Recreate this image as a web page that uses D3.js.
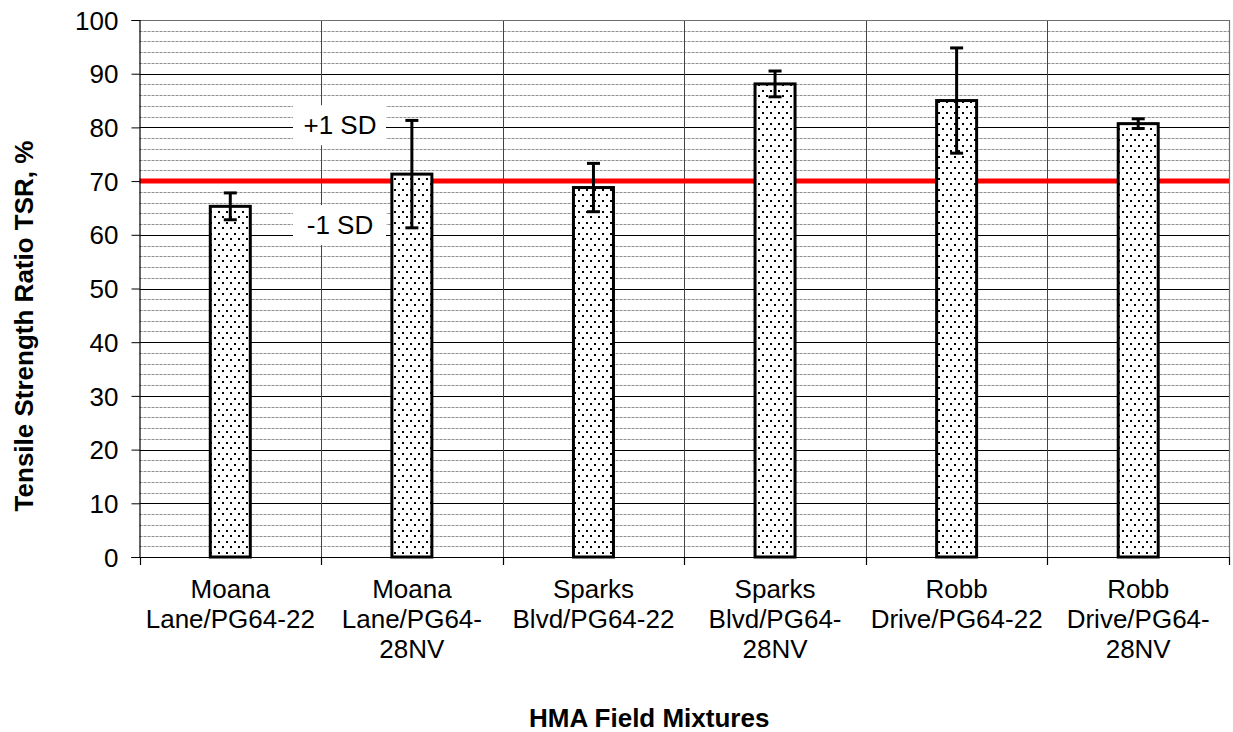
<!DOCTYPE html>
<html>
<head>
<meta charset="utf-8">
<script src="https://cdn.jsdelivr.net/npm/d3@7"></script>
<style>
  html, body { margin: 0; padding: 0; background: #fff; }
  svg { display: block; font-family: "Liberation Sans", Arial, sans-serif; }
</style>
</head>
<body>
<svg id="chart" width="1233" height="732"></svg>
<script>
const categories = ["Moana Lane/PG64-22", "Moana Lane/PG64-28NV", "Sparks Blvd/PG64-22",
                    "Sparks Blvd/PG64-28NV", "Robb Drive/PG64-22", "Robb Drive/PG64-28NV"];
const categoryLines = [
  ["Moana", "Lane/PG64-22"],
  ["Moana", "Lane/PG64-", "28NV"],
  ["Sparks", "Blvd/PG64-22"],
  ["Sparks", "Blvd/PG64-", "28NV"],
  ["Robb", "Drive/PG64-22"],
  ["Robb", "Drive/PG64-", "28NV"]
];
const tsrValues = [65.3, 71.3, 68.8, 88.1, 85.0, 80.7];
const sdValues = [2.5, 10.0, 4.5, 2.4, 9.8, 0.9];
const thresholdValue = 70;
const yTicks = [0, 10, 20, 30, 40, 50, 60, 70, 80, 90, 100];
const minorTicks = d3.range(2, 100, 2).filter(v => v % 10 !== 0);
const sdLabels = [{text: "+1 SD", value: 80.4}, {text: "-1 SD", value: 61.8}];
const yTitle = "Tensile Strength Ratio TSR, %";
const xTitle = "HMA Field Mixtures";

const svg = d3.select("#chart");
const pLeft = 139.5, pRight = 1229, pTop = 20, pBottom = 557;

const x = d3.scaleBand().domain(categories).range([pLeft, pRight]).paddingInner(0).paddingOuter(0);
const y = d3.scaleLinear().domain([0, 100]).range([pBottom, pTop]);

// pattern
const defs = svg.append("defs");
const pat = defs.append("pattern").attr("id", "dots").attr("patternUnits", "userSpaceOnUse")
  .attr("width", 8).attr("height", 11);
pat.append("rect").attr("width", 8).attr("height", 11).attr("fill", "#fff");
pat.append("rect").attr("x", 2).attr("y", 2).attr("width", 2).attr("height", 2).attr("fill", "#000");
pat.append("rect").attr("x", 6).attr("y", 7).attr("width", 2).attr("height", 2).attr("fill", "#000");

// minor gridlines
svg.append("g").selectAll("line").data(minorTicks).join("line")
  .attr("x1", pLeft).attr("x2", pRight)
  .attr("y1", d => Math.round(y(d)) + 0.5).attr("y2", d => Math.round(y(d)) + 0.5)
  .attr("stroke", "#8f8f8f").attr("stroke-width", 1).attr("stroke-dasharray", "3,1");

// major gridlines
svg.append("g").selectAll("line").data(yTicks.filter(d => d > 0 && d < 100)).join("line")
  .attr("x1", pLeft).attr("x2", pRight)
  .attr("y1", d => Math.round(y(d)) + 0.5).attr("y2", d => Math.round(y(d)) + 0.5)
  .attr("stroke", "#000").attr("stroke-width", 1);

// vertical category separators
const bounds = categories.map(c => x(c)).concat([pRight]);
svg.append("g").selectAll("line").data(bounds.slice(1, -1)).join("line")
  .attr("x1", d => Math.round(d) + 0.5).attr("x2", d => Math.round(d) + 0.5)
  .attr("y1", pTop).attr("y2", pBottom)
  .attr("stroke", "#444").attr("stroke-width", 1);

// plot border top/right
svg.append("path")
  .attr("d", `M${pLeft},${pTop + 0.5}H${pRight + 0.5}V${pBottom}`)
  .attr("fill", "none").attr("stroke", "#6e6e6e").attr("stroke-width", 1.2);

// SD label boxes
const sdG = svg.append("g");
sdLabels.forEach(s => {
  const cy = y(s.value);
  sdG.append("rect").attr("x", 293).attr("y", cy - 20).attr("width", 93).attr("height", 40)
    .attr("fill", "#fff");
  sdG.append("text").attr("x", 340).attr("y", cy + 9).attr("text-anchor", "middle")
    .attr("font-size", 26).attr("fill", "#000").text(s.text);
});

// threshold line
svg.append("line").attr("x1", pLeft).attr("x2", pRight)
  .attr("y1", y(thresholdValue)).attr("y2", y(thresholdValue))
  .attr("stroke", "#ff0000").attr("stroke-width", 5);

// bars
const bw = 40;
svg.append("g").selectAll("rect").data(tsrValues).join("rect")
  .attr("x", (d, i) => x(categories[i]) + x.bandwidth() / 2 - bw / 2)
  .attr("y", d => y(d))
  .attr("width", bw)
  .attr("height", d => y(0) - y(d))
  .attr("fill", "url(#dots)")
  .attr("stroke", "#000").attr("stroke-width", 3);

// error bars
const eb = svg.append("g").attr("stroke", "#000").attr("stroke-width", 3);
tsrValues.forEach((v, i) => {
  const cx = x(categories[i]) + x.bandwidth() / 2;
  const hi = y(v + sdValues[i]), lo = y(v - sdValues[i]);
  eb.append("line").attr("x1", cx).attr("x2", cx).attr("y1", hi).attr("y2", lo);
  eb.append("line").attr("x1", cx - 6.5).attr("x2", cx + 6.5).attr("y1", hi).attr("y2", hi);
  eb.append("line").attr("x1", cx - 6.5).attr("x2", cx + 6.5).attr("y1", lo).attr("y2", lo);
});

// y axis
const yAxis = d3.axisLeft(y).tickValues(yTicks).tickSize(8).tickPadding(13).tickFormat(d3.format("d"));
const ya = svg.append("g").attr("transform", `translate(${pLeft},0)`).call(yAxis);
ya.select(".domain").attr("stroke", "#000").attr("stroke-width", 1.2);
ya.selectAll(".tick line").attr("stroke", "#000");
ya.selectAll(".tick text").attr("font-size", 26).attr("fill", "#000")
  .attr("font-family", "Liberation Sans, Arial, sans-serif").attr("dy", "0.35em");

// x axis line + boundary ticks
svg.append("line").attr("x1", pLeft - 8).attr("x2", pRight).attr("y1", pBottom + 0.5).attr("y2", pBottom + 0.5)
  .attr("stroke", "#000").attr("stroke-width", 1.2);
svg.append("g").selectAll("line").data(bounds).join("line")
  .attr("x1", d => Math.round(d) + 0.5).attr("x2", d => Math.round(d) + 0.5)
  .attr("y1", pBottom).attr("y2", pBottom + 8)
  .attr("stroke", "#000").attr("stroke-width", 1.2);

// category labels
const lab = svg.append("g").attr("font-size", 26).attr("text-anchor", "middle").attr("fill", "#000");
categoryLines.forEach((lines, i) => {
  const cx = x(categories[i]) + x.bandwidth() / 2;
  const t = lab.append("text").attr("x", cx).attr("y", 598);
  lines.forEach((ln, j) => {
    t.append("tspan").attr("x", cx).attr("y", 598 + j * 30).text(ln);
  });
});

// titles
svg.append("text").attr("x", (pLeft + pRight) / 2 - 35).attr("y", 727)
  .attr("text-anchor", "middle").attr("font-size", 26).attr("font-weight", "bold").text(xTitle);
svg.append("text").attr("transform", "translate(33,326) rotate(-90)")
  .attr("text-anchor", "middle").attr("font-size", 26).attr("font-weight", "bold").text(yTitle);
</script>
</body>
</html>
